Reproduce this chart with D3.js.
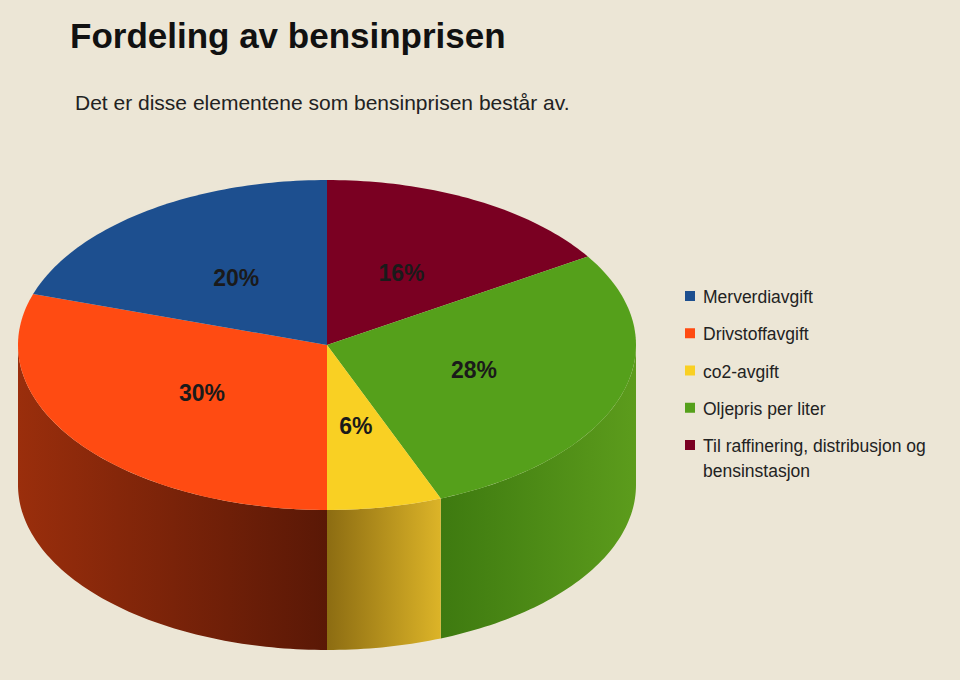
<!DOCTYPE html>
<html><head><meta charset="utf-8">
<script src="https://cdn.jsdelivr.net/npm/d3@7"></script>
<style>body{margin:0;background:#ece6d6}svg{display:block}</style>
</head><body>
<svg id="chart" width="960" height="680"></svg>
<script>
// data, clockwise from 12 o'clock
const categories = ['Til raffinering, distribusjon og bensinstasjon', 'Oljepris per liter', 'co2-avgift', 'Drivstoffavgift', 'Merverdiavgift'];
const values = [16, 28, 6, 30, 20];
const labels = ['16%', '28%', '6%', '30%', '20%'];
const legendOrder = ['Merverdiavgift', 'Drivstoffavgift', 'co2-avgift', 'Oljepris per liter', 'Til raffinering, distribusjon og bensinstasjon'];

const topColors = {'Merverdiavgift': '#1d4f8f', 'Drivstoffavgift': '#ff4b12', 'co2-avgift': '#f9d023',
  'Oljepris per liter': '#55a01b', 'Til raffinering, distribusjon og bensinstasjon': '#7a0022'};
const sideColors = {'Drivstoffavgift': ['#5a1806', '#9a2e0c'], 'co2-avgift': ['#8c6c12', '#dcb428'],
  'Oljepris per liter': ['#3e7a10', '#5c9c1c'], 'Merverdiavgift': ['#0f2a50', '#1d4f8f'],
  'Til raffinering, distribusjon og bensinstasjon': ['#40000f', '#7a0022']};

const svg = d3.select('#chart');
const cx = 327, cy = 345, rx = 309, ry = 165, depth = 140;
const pt = (t, k = 1, dy = 0) => [cx + rx * k * Math.sin(t), cy - ry * k * Math.cos(t) + dy];

const pie = d3.pie().sort(null).startAngle(0).endAngle(2 * Math.PI);
const arcs = pie(values);
const defs = svg.append('defs');
const line = d3.line();

function arcPoints(a0, a1, dy) {
  const n = Math.max(2, Math.ceil((a1 - a0) / 0.02));
  return d3.range(n + 1).map(i => pt(a0 + (a1 - a0) * i / n, 1, dy));
}

// side walls (front half only)
arcs.forEach((d, i) => {
  const a0 = Math.max(d.startAngle, Math.PI / 2), a1 = Math.min(d.endAngle, 3 * Math.PI / 2);
  if (a1 <= a0) return;
  const c = sideColors[categories[i]];
  const g = defs.append('linearGradient').attr('id', 'side' + i)
    .attr('gradientUnits', 'userSpaceOnUse')
    .attr('x1', pt(a0)[0]).attr('x2', pt(a1)[0]).attr('y1', 0).attr('y2', 0);
  g.append('stop').attr('offset', 0).attr('stop-color', i === 3 ? c[0] : c[1]);
  g.append('stop').attr('offset', 1).attr('stop-color', i === 3 ? c[1] : c[0]);
  const pts = arcPoints(a0, a1, 0).concat(arcPoints(a0, a1, depth).reverse());
  svg.append('path').attr('d', line(pts) + 'Z').attr('fill', `url(#side${i})`);
});

// top faces
arcs.forEach((d, i) => {
  const pts = [[cx, cy]].concat(arcPoints(d.startAngle, d.endAngle, 0));
  svg.append('path').attr('d', line(pts) + 'Z').attr('fill', topColors[categories[i]]);
  const m = (d.startAngle + d.endAngle) / 2;
  const p = pt(m, 0.5);
  svg.append('text').attr('x', p[0]).attr('y', p[1] + 8).attr('text-anchor', 'middle')
    .attr('font-family', 'Liberation Sans, Arial, sans-serif').attr('font-weight', 'bold')
    .attr('font-size', 23).attr('fill', '#1a1a1a').text(labels[i]);
});

// title
svg.append('text').attr('x', 70).attr('y', 48).attr('font-family', 'Liberation Sans, Arial, sans-serif')
  .attr('font-weight', 'bold').attr('font-size', 35).attr('fill', '#111').text('Fordeling av bensinprisen');
svg.append('text').attr('x', 75).attr('y', 110).attr('font-family', 'Liberation Sans, Arial, sans-serif')
  .attr('font-size', 21).attr('fill', '#222').text('Det er disse elementene som bensinprisen består av.');

// legend
const ly = d3.scalePoint().domain(legendOrder).range([297, 446]);
const lg = svg.append('g').attr('font-family', 'Liberation Sans, Arial, sans-serif').attr('font-size', 17.5).attr('fill', '#222');
legendOrder.forEach(name => {
  const y = ly(name);
  lg.append('rect').attr('x', 685).attr('y', y - 6).attr('width', 10).attr('height', 10).attr('fill', topColors[name]);
  if (name.startsWith('Til')) {
    lg.append('text').attr('x', 703).attr('y', y + 6).text('Til raffinering, distribusjon og');
    lg.append('text').attr('x', 703).attr('y', y + 31).text('bensinstasjon');
  } else {
    lg.append('text').attr('x', 703).attr('y', y + 6).text(name);
  }
});
</script>
</body></html>
